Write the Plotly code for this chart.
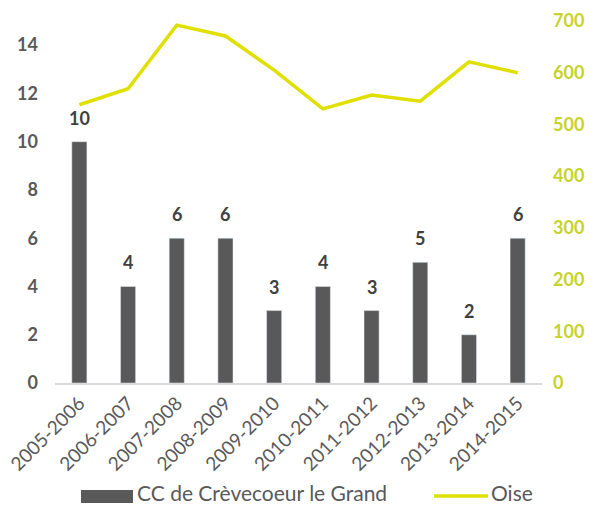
import plotly.graph_objects as go

categories = ["2005-2006", "2006-2007", "2007-2008", "2008-2009", "2009-2010",
              "2010-2011", "2011-2012", "2012-2013", "2013-2014", "2014-2015"]
cc_values = [10, 4, 6, 6, 3, 4, 3, 5, 2, 6]
oise_values = [538, 569, 692, 671, 605, 530, 557, 545, 621, 600]
left_ticks = [0, 2, 4, 6, 8, 10, 12, 14]
right_ticks = [0, 100, 200, 300, 400, 500, 600, 700]
series_names = ["CC de Crèvecoeur le Grand", "Oise"]

FONT = "Lato"
BAR_COLOR = "#595959"
LINE_COLOR = "#E0E000"

W, H = 595, 506
L, R, T, B = 55, 53, 21, 123
PW, PH = W - L - R, H - T - B


def px(x):
    return (x - L) / PW


def py(y):
    return (H - B - y) / PH


fig = go.Figure()
fig.add_trace(go.Bar(
    x=categories, y=cc_values, name=series_names[0],
    marker_color=BAR_COLOR, width=0.31, showlegend=False,
))
fig.add_trace(go.Scatter(
    x=categories, y=oise_values, name=series_names[1], yaxis="y2", mode="lines",
    line=dict(color=LINE_COLOR, width=3.5), showlegend=False,
))

# data labels above bars
for c, v in zip(categories, cc_values):
    fig.add_annotation(x=c, y=v, xref="x", yref="y", text=str(v),
                       showarrow=False, yanchor="bottom", yshift=11,
                       font=dict(family=FONT, size=18, color="#404040",
                                 weight="bold"))

# custom legend (Excel-style large legend keys)
fig.add_shape(type="rect", xref="paper", yref="paper",
              x0=px(81), x1=px(133), y0=py(503), y1=py(490),
              fillcolor=BAR_COLOR, line=dict(width=0))
fig.add_annotation(xref="paper", yref="paper", x=px(136), y=py(505.5),
                   xanchor="left", yanchor="bottom", showarrow=False,
                   text=series_names[0], borderpad=0,
                   font=dict(family=FONT, size=21, color="#595959"))
fig.add_shape(type="line", xref="paper", yref="paper",
              x0=px(434), x1=px(488), y0=py(496), y1=py(496),
              line=dict(color=LINE_COLOR, width=3.5))
fig.add_annotation(xref="paper", yref="paper", x=px(490), y=py(505.5),
                   xanchor="left", yanchor="bottom", showarrow=False,
                   text=series_names[1], borderpad=0,
                   font=dict(family=FONT, size=21, color="#595959"))

fig.update_layout(
    width=W, height=H,
    margin=dict(l=L, r=R, t=T, b=B, autoexpand=False),
    paper_bgcolor="white", plot_bgcolor="white",
    showlegend=False,
    font=dict(family=FONT, color="#595959"),
    xaxis=dict(
        tickangle=-45, tickfont=dict(size=19, color="#595959"),
        showline=True, linecolor="#D9D9D9", linewidth=1.5,
        ticks="", showgrid=False, automargin=False,
    ),
    yaxis=dict(
        range=[0, 15], tickvals=left_ticks, showgrid=False, zeroline=False,
        tickfont=dict(size=18, color="#595959", weight="bold"),
        ticks="", automargin=False, ticklabelstandoff=16,
    ),
    yaxis2=dict(
        range=[0, 700], tickvals=right_ticks, overlaying="y", side="right",
        showgrid=False, zeroline=False, automargin=False,
        ticklabelstandoff=10,
        tickfont=dict(size=18, color="#C5D32A", weight="bold"),
    ),
)

fig.write_html("out.html", config={"displayModeBar": False},
               post_script="document.body.style.margin='0';")
